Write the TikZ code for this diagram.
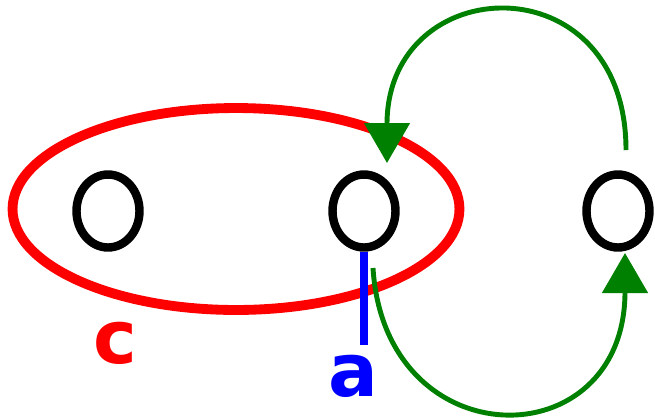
\documentclass[tikz,border=0pt]{standalone}
\usepackage{fontspec}
\usepackage{tikz}
\usetikzlibrary{positioning,arrows.meta,shapes.geometric}
\newfontfamily\lblfont{DejaVu Sans}

\begin{document}
\begin{tikzpicture}[x=0.02cm, y=-0.02cm,
					vtx/.style={ellipse, draw=black, line width=4.8pt, minimum width=1.26cm, minimum height=1.46cm, inner sep=0pt},
					grp/.style={ellipse, draw=red, line width=5.6pt, minimum width=8.94cm, minimum height=4.04cm, inner sep=0pt},
					lbl/.style={inner sep=0pt, font=\lblfont\bfseries\fontsize{42}{42}\selectfont},
					jump/.style={draw=green!50!black, line width=2.8pt, -{Triangle[length=0.8cm, width=0.9cm]}}]
					\useasboundingbox (0,0) rectangle (655,417);
					\node[grp] (C) at (236,209) {};
					\node[vtx] (A) at (108,211) {};
					\node[vtx] (B) at (364,211) {};
					\node[vtx] (D) at (618,211) {};
					\node[lbl, red] (c) at (115,343) {c};
					\node[lbl, blue] (a) at (353,376) {a};
					\coordinate (aEnd) at (364,345);
					\coordinate (topIn) at (626,150);
					\coordinate (topOut) at (387,163);
					\coordinate (botIn) at (373,268);
					\coordinate (botOut) at (625,253);
					\draw[blue, line width=5pt] (B.south) -- (aEnd);
					\draw[jump] (topIn) .. controls (626,-40) and (387,-30) .. (topOut);
					\draw[jump] (botIn) .. controls (385,460) and (625,460) .. (botOut);
				\end{tikzpicture}
\end{document}
